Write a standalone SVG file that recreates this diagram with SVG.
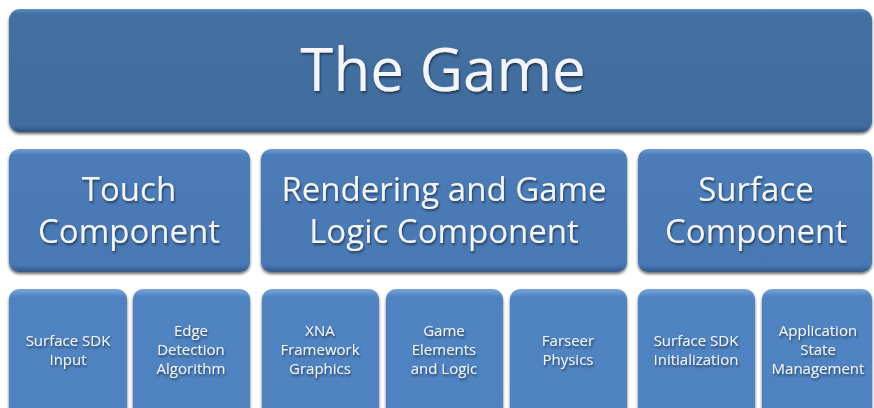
<svg xmlns="http://www.w3.org/2000/svg" width="874" height="408" viewBox="0 0 874 408">
<defs>
<linearGradient id="gTop" x1="0" y1="0" x2="0" y2="1">
<stop offset="0" stop-color="#5d8cc4"/>
<stop offset="0.04" stop-color="#436fa1"/>
<stop offset="0.95" stop-color="#416d9e"/>
<stop offset="1" stop-color="#2f537d"/>
</linearGradient>
<linearGradient id="gMid" x1="0" y1="0" x2="0" y2="1">
<stop offset="0" stop-color="#6f9bd3"/>
<stop offset="0.05" stop-color="#4b7bb7"/>
<stop offset="0.94" stop-color="#4a79b4"/>
<stop offset="1" stop-color="#325a8a"/>
</linearGradient>
<linearGradient id="gBot" x1="0" y1="0" x2="0" y2="1">
<stop offset="0" stop-color="#79a5dc"/>
<stop offset="0.06" stop-color="#5083c1"/>
<stop offset="1" stop-color="#4f82c0"/>
</linearGradient>
<filter id="sh" x="-5%" y="-5%" width="110%" height="115%">
<feGaussianBlur in="SourceAlpha" stdDeviation="1.5"/>
<feOffset dx="0" dy="1.5" result="b"/>
<feComponentTransfer><feFuncA type="linear" slope="0.6"/></feComponentTransfer>
<feMerge><feMergeNode/><feMergeNode in="SourceGraphic"/></feMerge>
</filter>
<filter id="ts" x="-10%" y="-10%" width="120%" height="130%">
<feGaussianBlur in="SourceAlpha" stdDeviation="1"/>
<feOffset dx="1" dy="1.5"/>
<feComponentTransfer><feFuncA type="linear" slope="0.5"/></feComponentTransfer>
<feMerge><feMergeNode/><feMergeNode in="SourceGraphic"/></feMerge>
</filter>
</defs>
<style>
.top{fill:url(#gTop);filter:url(#sh)}
.mid{fill:url(#gMid);filter:url(#sh)}
.bot{fill:url(#gBot);filter:url(#sh)}
text{font-family:"Open Sans","Liberation Sans",sans-serif;fill:#f3f5f8;text-anchor:middle;filter:url(#ts)}
.t1{font-size:60px}
.t2{font-size:33px}
.t3{font-size:15px}
</style>
<g id="the-game">
<rect class="top" x="9" y="9" width="863" height="123" rx="11"/>
<text class="t1" x="443" y="91">The Game</text>
</g>
<g id="touch-component">
<rect class="mid" x="9" y="149" width="241" height="123" rx="10"/>
<text class="t2" x="129" y="201">Touch</text>
<text class="t2" x="129" y="243">Component</text>
</g>
<g id="rendering-component">
<rect class="mid" x="261" y="149" width="366" height="123" rx="10"/>
<text class="t2" x="444" y="201">Rendering and Game</text>
<text class="t2" x="444" y="243">Logic Component</text>
</g>
<g id="surface-component">
<rect class="mid" x="638" y="149" width="234" height="123" rx="10"/>
<text class="t2" x="756" y="201">Surface</text>
<text class="t2" x="756" y="243">Component</text>
</g>
<g id="surface-sdk-input">
<rect class="bot" x="9" y="289" width="118" height="130" rx="10"/>
<text class="t3" x="68" y="346">Surface SDK</text>
<text class="t3" x="68" y="365">Input</text>
</g>
<g id="edge-detection">
<rect class="bot" x="133" y="289" width="117" height="130" rx="10"/>
<text class="t3" x="191" y="336">Edge</text>
<text class="t3" x="191" y="355">Detection</text>
<text class="t3" x="191" y="374">Algorithm</text>
</g>
<g id="xna-graphics">
<rect class="bot" x="262" y="289" width="117" height="130" rx="10"/>
<text class="t3" x="320" y="336">XNA</text>
<text class="t3" x="320" y="355">Framework</text>
<text class="t3" x="320" y="374">Graphics</text>
</g>
<g id="game-elements">
<rect class="bot" x="386" y="289" width="117" height="130" rx="10"/>
<text class="t3" x="444" y="336">Game</text>
<text class="t3" x="444" y="355">Elements</text>
<text class="t3" x="444" y="374">and Logic</text>
</g>
<g id="farseer-physics">
<rect class="bot" x="510" y="289" width="117" height="130" rx="10"/>
<text class="t3" x="568" y="346">Farseer</text>
<text class="t3" x="568" y="365">Physics</text>
</g>
<g id="surface-sdk-init">
<rect class="bot" x="638" y="289" width="117" height="130" rx="10"/>
<text class="t3" x="696" y="346">Surface SDK</text>
<text class="t3" x="696" y="365">Initialization</text>
</g>
<g id="app-state">
<rect class="bot" x="762" y="289" width="110" height="130" rx="10"/>
<text class="t3" x="818" y="336">Application</text>
<text class="t3" x="818" y="355">State</text>
<text class="t3" x="818" y="374">Management</text>
</g>
<g id="connectors"/>
</svg>
